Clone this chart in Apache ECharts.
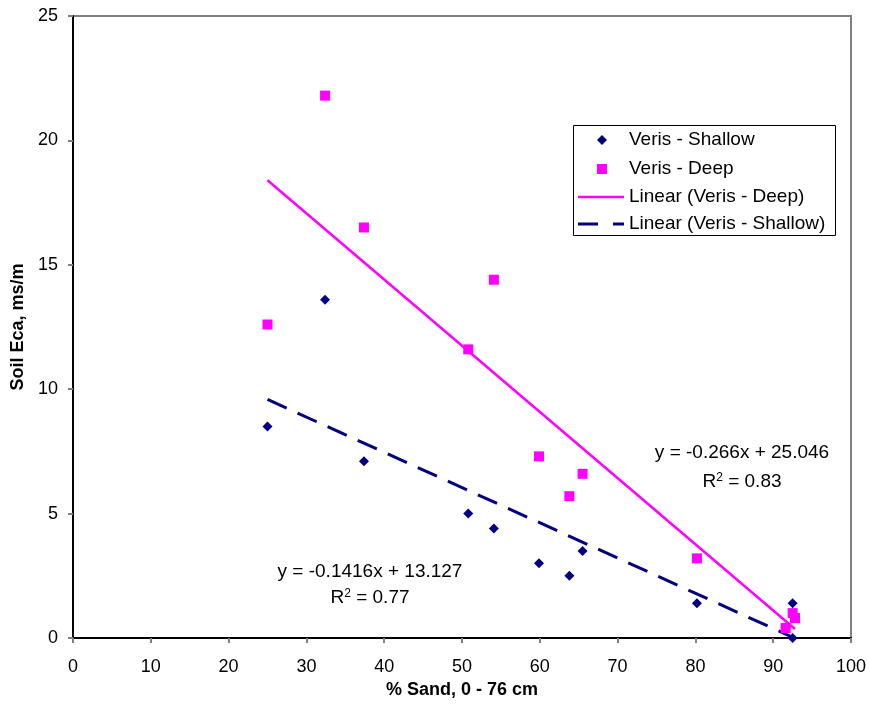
<!DOCTYPE html>
<html>
<head>
<meta charset="utf-8">
<script src="https://cdn.jsdelivr.net/npm/echarts@6/dist/echarts.min.js"></script>
<style>
html,body{margin:0;padding:0;background:#fff;}
#chart{width:869px;height:711px;}
</style>
</head>
<body>
<div id="chart"></div>
<script>
// ---- data ----
var shallowX = [25.0, 32.4, 37.4, 50.8, 54.1, 59.9, 63.8, 65.5, 80.2, 91.6, 92.5, 92.5];
var shallowY = [8.5, 13.6, 7.1, 5.0, 4.4, 3.0, 2.5, 3.5, 1.4, 0.4, 1.4, 0.0];
var deepX = [25.0, 32.4, 37.4, 50.8, 54.1, 59.9, 63.8, 65.5, 80.2, 91.6, 92.5, 92.8];
var deepY = [12.6, 21.8, 16.5, 11.6, 14.4, 7.3, 5.7, 6.6, 3.2, 0.4, 1.0, 0.8];
// trend lines (slope, intercept as printed on the chart) and their x extent
var deepTrend = {slope: -0.266, intercept: 25.046, r2: '0.83'};
var shallowTrend = {slope: -0.1416, intercept: 13.127, r2: '0.77'};
var trendRange = [25.0, 92.8];
var xTicks = {min: 0, max: 100, step: 10};
var yTicks = {min: 0, max: 25, step: 5};
var seriesNames = ['Veris - Shallow', 'Veris - Deep', 'Linear (Veris - Deep)', 'Linear (Veris - Shallow)'];
var xTitle = '% Sand, 0 - 76 cm';
var yTitle = 'Soil Eca, ms/m';

function pairs(xs, ys){ return xs.map(function(x,i){ return [x, ys[i]]; }); }
function trendPts(t){ return trendRange.map(function(x){ return [x, t.slope*x + t.intercept]; }); }
function eqText(t){ return 'y = ' + t.slope + 'x + ' + t.intercept; }

var FONT = 'Liberation Sans, Arial, sans-serif';
var chart = echarts.init(document.getElementById('chart'), null, {renderer:'canvas'});

var G = {left:73, top:16, right:851, bottom:638};

var option = {
  animation:false,
  backgroundColor:'#ffffff',
  grid:{left:G.left, top:G.top, width:G.right-G.left, height:G.bottom-G.top,
        containLabel:false, outerBoundsMode:'none',
        show:true, borderColor:'#808080', borderWidth:2, backgroundColor:'transparent'},
  xAxis:{type:'value', min:xTicks.min, max:xTicks.max, interval:xTicks.step,
    name:xTitle, nameLocation:'middle', nameGap:43,
    nameTextStyle:{fontFamily:FONT, fontSize:18, fontWeight:'bold', color:'#000'},
    axisLine:{show:true, onZero:false, lineStyle:{color:'#000', width:2}},
    axisTick:{show:true, length:5, lineStyle:{color:'#808080', width:2}},
    axisLabel:{fontFamily:FONT, fontSize:18, color:'#000', margin:20},
    splitLine:{show:false}},
  yAxis:{type:'value', min:yTicks.min, max:yTicks.max, interval:yTicks.step,
    name:yTitle, nameLocation:'middle', nameGap:45, nameRotate:90,
    nameTextStyle:{fontFamily:FONT, fontSize:18, fontWeight:'bold', color:'#000'},
    axisLine:{show:true, onZero:false, lineStyle:{color:'#000', width:2}},
    axisTick:{show:true, length:5, lineStyle:{color:'#808080', width:2}},
    axisLabel:{fontFamily:FONT, fontSize:18, color:'#000', margin:15},
    splitLine:{show:false}},
  series:[
    {name:seriesNames[0], type:'scatter', symbol:'diamond', symbolSize:10,
     itemStyle:{color:'#000080', opacity:1}, data:pairs(shallowX, shallowY), z:3, clip:false},
    {name:seriesNames[1], type:'scatter', symbol:'rect', symbolSize:10,
     itemStyle:{color:'#FF00FF', opacity:1}, data:pairs(deepX, deepY), z:4, clip:false},
    {name:seriesNames[2], type:'line', showSymbol:false, symbol:'none',
     lineStyle:{color:'#FF00FF', width:2.5}, data:trendPts(deepTrend), z:2},
    {name:seriesNames[3], type:'line', showSymbol:false, symbol:'none',
     lineStyle:{color:'#000080', width:3, type:[21,12], cap:'butt'}, data:trendPts(shallowTrend), z:2}
  ],
  graphic:[]
};

// equation labels
function eqGraphic(t, cx, cy1, cy2){
  return [
    {type:'text', x:cx, y:cy1, z:10,
     style:{text:eqText(t), font:'19px '+FONT, fill:'#000', align:'center', verticalAlign:'middle'}},
    {type:'text', x:cx, y:cy2, z:10,
     style:{text:'{a|R}{s|2}{a| = ' + t.r2 + '}', align:'center', verticalAlign:'middle',
       rich:{a:{fontFamily:FONT, fontSize:19, fill:'#000', color:'#000'},
             s:{fontFamily:FONT, fontSize:12, color:'#000', verticalAlign:'top', padding:[0,0,8,0]}}}}
  ];
}
option.graphic = option.graphic.concat(eqGraphic(deepTrend, 742, 453, 482));
option.graphic = option.graphic.concat(eqGraphic(shallowTrend, 370, 572, 598));

// legend box
var L = {x:573, y:125, w:262, h:110, symX:602, lineX1:578, lineX2:624, textX:629, rows:[140,169,197,224]};
option.graphic.push({type:'rect', z:10, shape:{x:L.x+0.5, y:L.y+0.5, width:L.w, height:L.h},
  style:{fill:'#fff', stroke:'#000', lineWidth:1}});
option.graphic.push({type:'polygon', z:11, shape:{points:[[L.symX,L.rows[0]-5],[L.symX+5,L.rows[0]],[L.symX,L.rows[0]+5],[L.symX-5,L.rows[0]]]},
  style:{fill:'#000080'}});
option.graphic.push({type:'rect', z:11, shape:{x:L.symX-5, y:L.rows[1]-5, width:10, height:10},
  style:{fill:'#FF00FF'}});
option.graphic.push({type:'line', z:11, shape:{x1:L.lineX1, y1:L.rows[2], x2:L.lineX2, y2:L.rows[2]},
  style:{stroke:'#FF00FF', lineWidth:2.5}});
option.graphic.push({type:'line', z:11, shape:{x1:L.lineX1, y1:L.rows[3], x2:L.lineX2, y2:L.rows[3]},
  style:{stroke:'#000080', lineWidth:3, lineDash:[20,15]}});
seriesNames.forEach(function(n,i){
  option.graphic.push({type:'text', z:11, x:L.textX, y:L.rows[i],
    style:{text:n, font:'19px '+FONT, fill:'#000', align:'left', verticalAlign:'middle'}});
});

chart.setOption(option);
</script>
</body>
</html>
